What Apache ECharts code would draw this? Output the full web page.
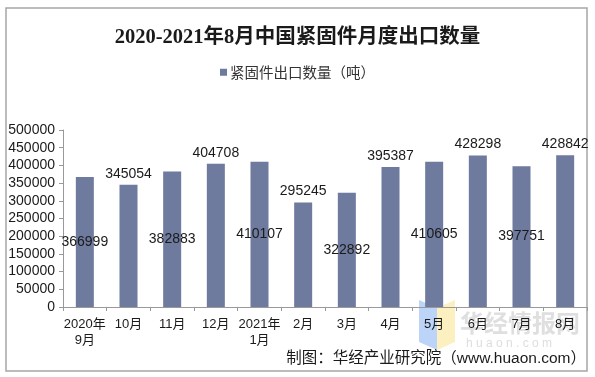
<!DOCTYPE html>
<html>
<head>
<meta charset="utf-8">
<script src="https://cdn.jsdelivr.net/npm/echarts@6/dist/echarts.min.js"></script>
<style>
html, body { margin: 0; padding: 0; background: #fff; }
#main { width: 595px; height: 377px; }
</style>
</head>
<body>
<div id="main"></div>
<script>
// 月份
var months = ['2020年\n9月', '10月', '11月', '12月', '2021年\n1月', '2月', '3月', '4月', '5月', '6月', '7月', '8月'];
// 出口数量（吨）
var exportTons = [366999, 345054, 382883, 404708, 410107, 295245, 322892, 395387, 410605, 428298, 397751, 428842];
var seriesName = '紧固件出口数量（吨）';

var chart = echarts.init(document.getElementById('main'));

var barData = exportTons.map(function(v, i) {
	// 标签一里一外交替
	return {
		value: v,
		label: { position: i % 2 === 0 ? 'inside' : 'top' }
	};
});

option = {
	backgroundColor: '#fff',
	animation: false,
	title: {
		text: '2020-2021年8月中国紧固件月度出口数量',
		left: 'center',
		top: 22,
		textStyle: {
			fontFamily: 'Liberation Serif, Noto Sans CJK SC',
			fontWeight: 'bold',
			fontSize: 20.5,
			color: '#1a1a1a'
		}
	},
	legend: {
		data: [seriesName],
		top: 60,
		left: 'center',
		itemWidth: 7,
		itemHeight: 7,
		itemGap: 3,
		icon: 'rect',
		textStyle: {
			fontFamily: 'Noto Sans CJK SC',
			fontSize: 14.5,
			padding: [0, 0, 0, -2],
			color: '#333'
		}
	},
	grid: {
		left: 63,
		right: 8,
		top: 130,
		bottom: 70
	},
	xAxis: {
		type: 'category',
		data: months,
		axisLine: { lineStyle: { color: '#999', width: 1 } },
		axisTick: { show: true, length: 4, lineStyle: { color: '#999' } },
		axisLabel: {
			interval: 0,
			margin: 9,
			fontFamily: 'Liberation Sans, Noto Sans CJK SC',
			fontSize: 13,
			lineHeight: 16,
			color: '#1a1a1a'
		}
	},
	yAxis: {
		type: 'value',
		min: 0,
		max: 500000,
		interval: 50000,
		axisLine: { show: true, lineStyle: { color: '#999', width: 1 } },
		axisTick: { show: true, length: 4, lineStyle: { color: '#999' } },
		splitLine: { show: false },
		axisLabel: {
			margin: 8,
			formatter: function(v) { return String(v); },
			fontFamily: 'Liberation Sans',
			fontSize: 14,
			color: '#1a1a1a'
		}
	},
	series: [{
		name: seriesName,
		type: 'bar',
		barWidth: 18,
		itemStyle: { color: '#6E7A9E' },
		label: {
			show: true,
			distance: 4,
			fontFamily: 'Liberation Sans',
			fontSize: 14,
			color: '#1a1a1a',
			textBorderWidth: 0
		},
		data: barData
	}],
	graphic: [{
		type: 'rect',
		shape: { x: 6, y: 8, width: 581, height: 363 },
		style: { fill: 'none', stroke: '#a6a6a6', lineWidth: 1.5 },
		silent: true
	}, {
		// 水印
		type: 'polygon',
		shape: { points: [[419, 300], [437, 308], [437, 350], [419, 342]] },
		style: { fill: 'rgba(120,170,240,0.5)' },
		silent: true,
		z: 0
	}, {
		type: 'polygon',
		shape: { points: [[437, 308], [455, 300], [455, 342], [437, 350]] },
		style: { fill: 'rgba(250,225,130,0.5)' },
		silent: true,
		z: 0
	}, {
		type: 'text',
		left: 460,
		top: 311,
		style: {
			text: '华经情报网',
			fontFamily: 'Noto Sans CJK SC',
			fontWeight: 'bold',
			fontSize: 24,
			fill: 'rgba(150,150,150,0.3)'
		},
		silent: true
	}, {
		type: 'text',
		left: 466,
		top: 338,
		style: {
			text: 'h u a o n . c o m',
			fontFamily: 'Liberation Sans',
			fontSize: 12,
			fill: 'rgba(170,170,170,0.4)'
		},
		silent: true
	}, {
		type: 'text',
		right: 9,
		top: 351,
		style: {
			text: '制图：华经产业研究院（www.huaon.com）',
			fontFamily: 'Liberation Sans, Noto Sans CJK SC',
			fontSize: 15.5,
			fill: '#1a1a1a'
		},
		silent: true
	}]
};

chart.setOption(option);
</script>
</body>
</html>
